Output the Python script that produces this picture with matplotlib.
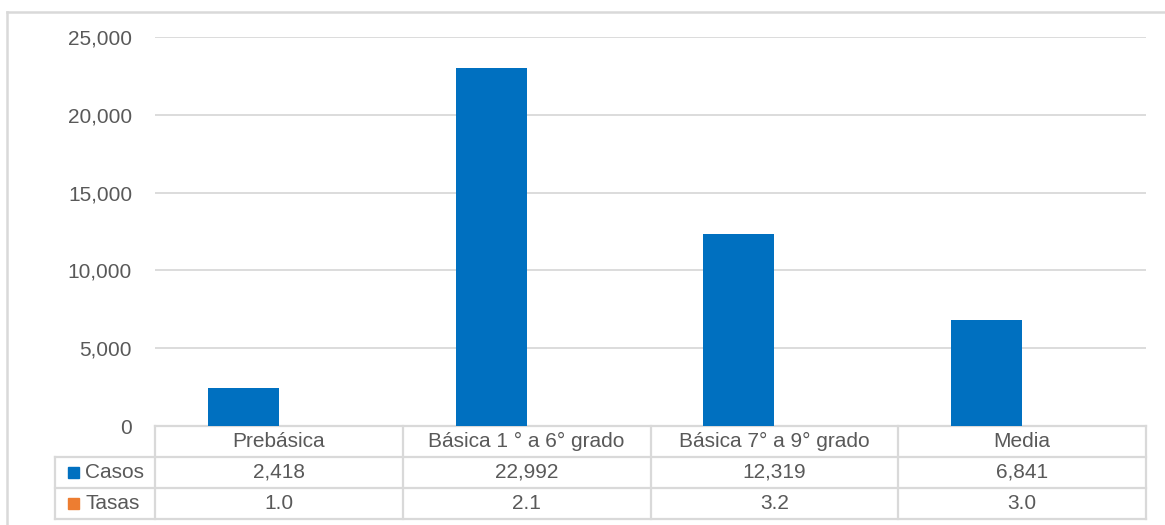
import matplotlib
matplotlib.use('Agg')
import matplotlib.pyplot as plt
from matplotlib.lines import Line2D
from matplotlib.patches import Rectangle
import numpy as np

plt.rcParams['font.family'] = ['Liberation Sans', 'DejaVu Sans']

# datos
categorias = ["Prebásica", "Básica 1 ° a 6° grado", "Básica 7° a 9° grado", "Media"]
casos = [2418, 22992, 12319, 6841]
tasas = [1.0, 2.1, 3.2, 3.0]
series = ["Casos", "Tasas"]
etiquetas_casos = ["2,418", "22,992", "12,319", "6,841"]
etiquetas_tasas = ["1.0", "2.1", "3.2", "3.0"]
yticks = [0, 5000, 10000, 15000, 20000, 25000]

azul = "#0070C0"
naranja = "#ED7D31"
gris_txt = "#595959"
gris_lin = "#D9D9D9"

W, H = 1165, 525
fig = plt.figure(figsize=(W / 100, H / 100), dpi=100)
ax = fig.add_axes([155 / W, 1 - 426 / H, (1146 - 155) / W, (426 - 37) / H])

x = np.arange(len(categorias))
ancho = 0.287
ax.bar(x - 0.143, casos, width=ancho, color=azul, zorder=3)
ax.bar(x + 0.143, tasas, width=ancho, color=naranja, zorder=3)

fs = 15
ax.set_xlim(-0.5, len(categorias) - 0.5)
ax.set_ylim(0, 25000)
ax.set_yticks(yticks)
ax.set_yticklabels([f"{v:,}" for v in yticks], color=gris_txt, fontsize=fs)
ax.tick_params(axis='y', length=0, pad=16.5)
ax.set_xticks([])
ax.grid(axis='y', color=gris_lin, linewidth=1.3, zorder=0)
for s in ax.spines.values():
    s.set_visible(False)

# tabla de datos
trans = ax.get_xaxis_transform()
alto = 31 / 389
lw = 1.6
izq = -100 / 991  # en fraccion del eje
tr_ax = ax.transAxes

# lineas horizontales
for k in range(4):
    yy = -k * alto
    x0 = 0 if k == 0 else izq
    ax.add_line(Line2D([x0, 1], [yy, yy], transform=tr_ax, color=gris_lin, lw=lw, clip_on=False))
# lineas verticales
for i in range(len(categorias) + 1):
    xx = i - 0.5
    ax.add_line(Line2D([xx, xx], [0, -3 * alto], transform=trans, color=gris_lin, lw=lw, clip_on=False))
ax.add_line(Line2D([izq, izq], [-alto, -3 * alto], transform=tr_ax, color=gris_lin, lw=lw, clip_on=False))

for i, cat in enumerate(categorias):
    ax.text(i, -0.5 * alto, cat, transform=trans, ha='center', va='center', fontsize=fs, color=gris_txt)
    ax.text(i, -1.5 * alto, etiquetas_casos[i], transform=trans, ha='center', va='center', fontsize=fs, color=gris_txt)
    ax.text(i, -2.5 * alto, etiquetas_tasas[i], transform=trans, ha='center', va='center', fontsize=fs, color=gris_txt)

for j, (nombre, col) in enumerate(zip(series, [azul, naranja])):
    yc = -(j + 1.5) * alto
    ax.add_patch(Rectangle((izq + 13 / 991, yc - 5.5 / 389), 11 / 991, 11 / 389, transform=tr_ax,
                           color=col, clip_on=False))
    ax.text(izq + 30 / 991, yc, nombre, transform=tr_ax, ha='left', va='center', fontsize=fs, color=gris_txt)

# borde del grafico
fig.add_artist(Line2D([7 / W, 7 / W], [0, 1 - 12 / H], color=gris_lin, lw=1.8))
fig.add_artist(Line2D([7 / W, 1], [1 - 12 / H, 1 - 12 / H], color=gris_lin, lw=1.8))

fig.savefig("out.png", dpi=100)
